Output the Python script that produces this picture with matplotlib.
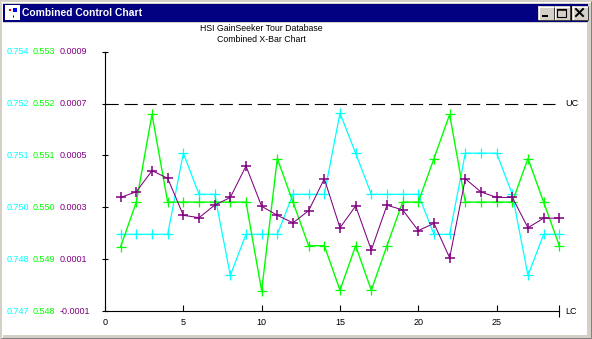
import matplotlib
matplotlib.use("Agg")
import matplotlib.pyplot as plt
from matplotlib.patches import Rectangle
from matplotlib.lines import Line2D
import matplotlib.transforms as mtransforms

plt.rcParams['font.family'] = ['Liberation Sans', 'DejaVu Sans']
plt.rcParams['lines.scale_dashes'] = False

# ---- data ----
window_title = "Combined Control Chart"
chart_title = "HSI GainSeeker Tour Database\nCombined X-Bar Chart"
subgroups = list(range(1, 30))

cyan_vals = [0.74887, 0.74887, 0.74887, 0.74887, 0.75106, 0.74995, 0.74995, 0.74776, 0.74887, 0.74887,
             0.74887, 0.74995, 0.74995, 0.74995, 0.75214, 0.75106, 0.74995, 0.74995, 0.74995, 0.74995,
             0.74887, 0.74887, 0.75106, 0.75106, 0.75106, 0.74995, 0.74776, 0.74887, 0.74887]
green_vals = [0.54924, 0.55010, 0.55179, 0.55010, 0.55010, 0.55010, 0.55010, 0.55010, 0.55010, 0.54839,
              0.55094, 0.55010, 0.54926, 0.54926, 0.54840, 0.54926, 0.54840, 0.54926, 0.55010, 0.55010,
              0.55094, 0.55179, 0.55010, 0.55010, 0.55010, 0.55010, 0.55094, 0.55010, 0.54926]
purple_vals = [0.000338, 0.000360, 0.000441, 0.000412, 0.000269, 0.000260, 0.000308, 0.000338, 0.000459, 0.000304,
               0.000269, 0.000240, 0.000287, 0.000410, 0.000221, 0.000305, 0.000135, 0.000308, 0.000290, 0.000210,
               0.000238, 0.000105, 0.000410, 0.000359, 0.000338, 0.000338, 0.000221, 0.000258, 0.000258]

purple_ticks = [-0.0001, 0.0001, 0.0003, 0.0005, 0.0007, 0.0009]
cyan_labels = ["0.747", "0.748", "0.750", "0.751", "0.752", "0.754"]
green_labels = ["0.548", "0.549", "0.550", "0.551", "0.552", "0.553"]
purple_labels = ["-0.0001", "0.0001", "0.0003", "0.0005", "0.0007", "0.0009"]
x_ticks = [0, 5, 10, 15, 20, 25]
x_max = 29
UC = 0.0007
cyan_lim = (0.7468, 0.7538)
green_lim = (0.548, 0.553)
purple_lim = (-0.0001, 0.0009)

C_CYAN = '#00FFFF'
C_GREEN = '#00FF00'
C_PURPLE = '#800080'

W, H = 592, 339
fig = plt.figure(figsize=(W / 100, H / 100), dpi=100)
fig.patch.set_facecolor('#d4d0c8')


def rect(x0, y0, x1, y1, color, z=0):
    fig.patches.append(Rectangle((x0 / W, 1 - y1 / H), (x1 - x0) / W, (y1 - y0) / H,
                                 transform=fig.transFigure, facecolor=color, edgecolor='none', zorder=z))


def hline(x0, x1, y, color, lw=1.0):
    fig.add_artist(Line2D([x0 / W, x1 / W], [1 - y / H, 1 - y / H], transform=fig.transFigure,
                          color=color, linewidth=lw * 0.72, solid_capstyle='butt'))


def vline(x, y0, y1, color, lw=1.0):
    fig.add_artist(Line2D([x / W, x / W], [1 - y0 / H, 1 - y1 / H], transform=fig.transFigure,
                          color=color, linewidth=lw * 0.72, solid_capstyle='butt'))


# window frame
hline(1, W - 1, 1.5, '#ffffff')
vline(1.5, 1, H - 1, '#ffffff')
hline(0, W, H - 0.5, '#404040')
hline(1, W - 1, H - 1.5, '#808080')
vline(W - 0.5, 0, H, '#404040')
vline(W - 1.5, 1, H - 1, '#808080')

# title bar
rect(3, 4, W - 4, 22, '#000080')
# icon
rect(5, 5, 20, 20, '#ffffff')
rect(13, 8, 17, 12, '#0000ff')
rect(9, 9, 11, 11, '#ff0000')
vline(12.5, 15, 17, '#000000')
fig.text(22 / W, 1 - 13 / H, window_title, color='white', fontsize=7.4, fontweight='bold',
         ha='left', va='center')

# buttons
for bx0, glyph in [(538, '_'), (554, 'box'), (572, 'x')]:
    bx1 = bx0 + 16
    rect(bx0, 6, bx1, 20, '#d4d0c8', z=1)
    hline(bx0, bx1, 6.5, '#ffffff')
    vline(bx0 + 0.5, 6, 20, '#ffffff')
    hline(bx0, bx1, 19.5, '#404040')
    vline(bx1 - 0.5, 6, 20, '#404040')
    cx = (bx0 + bx1) / 2
    if glyph == '_':
        hline(cx - 4, cx + 2, 16, 'black', 2)
    elif glyph == 'box':
        fig.patches.append(Rectangle(((cx - 5) / W, 1 - 17 / H), 9 / W, 8 / H, transform=fig.transFigure,
                                     facecolor='none', edgecolor='black', linewidth=0.8, zorder=2))
        hline(cx - 5, cx + 4, 10, 'black', 1.5)
    else:
        fig.add_artist(Line2D([(cx - 4) / W, (cx + 3) / W], [1 - 9 / H, 1 - 16 / H],
                              transform=fig.transFigure, color='black', linewidth=1.4))
        fig.add_artist(Line2D([(cx - 4) / W, (cx + 3) / W], [1 - 16 / H, 1 - 9 / H],
                              transform=fig.transFigure, color='black', linewidth=1.4))

# client area
rect(3, 23, W - 5, H - 4, '#ffffff')

# chart title
fig.text(261 / W, 1 - 34 / H, chart_title, fontsize=6.3, ha='center', va='center',
         linespacing=1.25, color='black')

# axes
ax_left, ax_right, ax_top, ax_bot = 105, 559.3, 51.7, 311
rectax = [ax_left / W, 1 - ax_bot / H, (ax_right - ax_left) / W, (ax_bot - ax_top) / H]
ax = fig.add_axes(rectax)
ax.set_facecolor('none')
ax_g = fig.add_axes(rectax, sharex=ax)
ax_c = fig.add_axes(rectax, sharex=ax)
for a in (ax_c, ax_g):
    a.set_axis_off()
    a.patch.set_visible(False)

ax.set_xlim(0, x_max)
ax.set_ylim(*purple_lim)
ax_g.set_ylim(*green_lim)
ax_c.set_ylim(*cyan_lim)

mk = dict(marker='+', markersize=6.5)
ax_c.plot(subgroups, cyan_vals, color=C_CYAN, linewidth=0.9, markeredgewidth=0.9, clip_on=False, **mk)
ax_g.plot(subgroups, green_vals, color=C_GREEN, linewidth=1.0, markeredgewidth=0.9, clip_on=False, **mk)
ax.plot(subgroups, purple_vals, color=C_PURPLE, linewidth=0.75, markeredgewidth=1.1, clip_on=False,
        zorder=5, **mk)
ax.set_zorder(3)
ax_g.set_zorder(2)
ax_c.set_zorder(1)

ax.axhline(UC, xmin=0, xmax=(555 - ax_left) / (ax_right - ax_left), color='black', linewidth=0.8,
           dashes=(9.5, 4.2))

for s in ('top', 'right'):
    ax.spines[s].set_visible(False)
ax.spines['left'].set_linewidth(0.8)
ax.spines['bottom'].set_linewidth(0.8)

ax.set_yticks(purple_ticks)
ax.set_yticklabels([])
ax.tick_params(axis='y', direction='inout', length=5, width=0.8)
ax.set_xticks(x_ticks)
ax.set_xticks([x_max], minor=True)
ax.tick_params(axis='x', which='major', direction='in', length=4, width=0.8, labelsize=6.5, pad=5)
ax.tick_params(axis='x', which='minor', direction='inout', length=8, width=0.8)

# y tick labels in three colours
trans = mtransforms.blended_transform_factory(fig.transFigure, ax.transData)
for yv, lc, lg, lp in zip(purple_ticks, cyan_labels, green_labels, purple_labels):
    fig.text(7 / W, yv, lc, transform=trans, color=C_CYAN, fontsize=6.5, ha='left', va='center')
    fig.text(33 / W, yv, lg, transform=trans, color=C_GREEN, fontsize=6.5, ha='left', va='center')
    fig.text(60 / W, yv, lp, transform=trans, color=C_PURPLE, fontsize=6.5, ha='left', va='center')

fig.text(565 / W, UC, "UC", transform=trans, fontsize=6.5, ha='left', va='center')
fig.text(565 / W, purple_lim[0], "LC", transform=trans, fontsize=6.5, ha='left', va='center')

fig.savefig('out.png', dpi=100, facecolor=fig.get_facecolor())
